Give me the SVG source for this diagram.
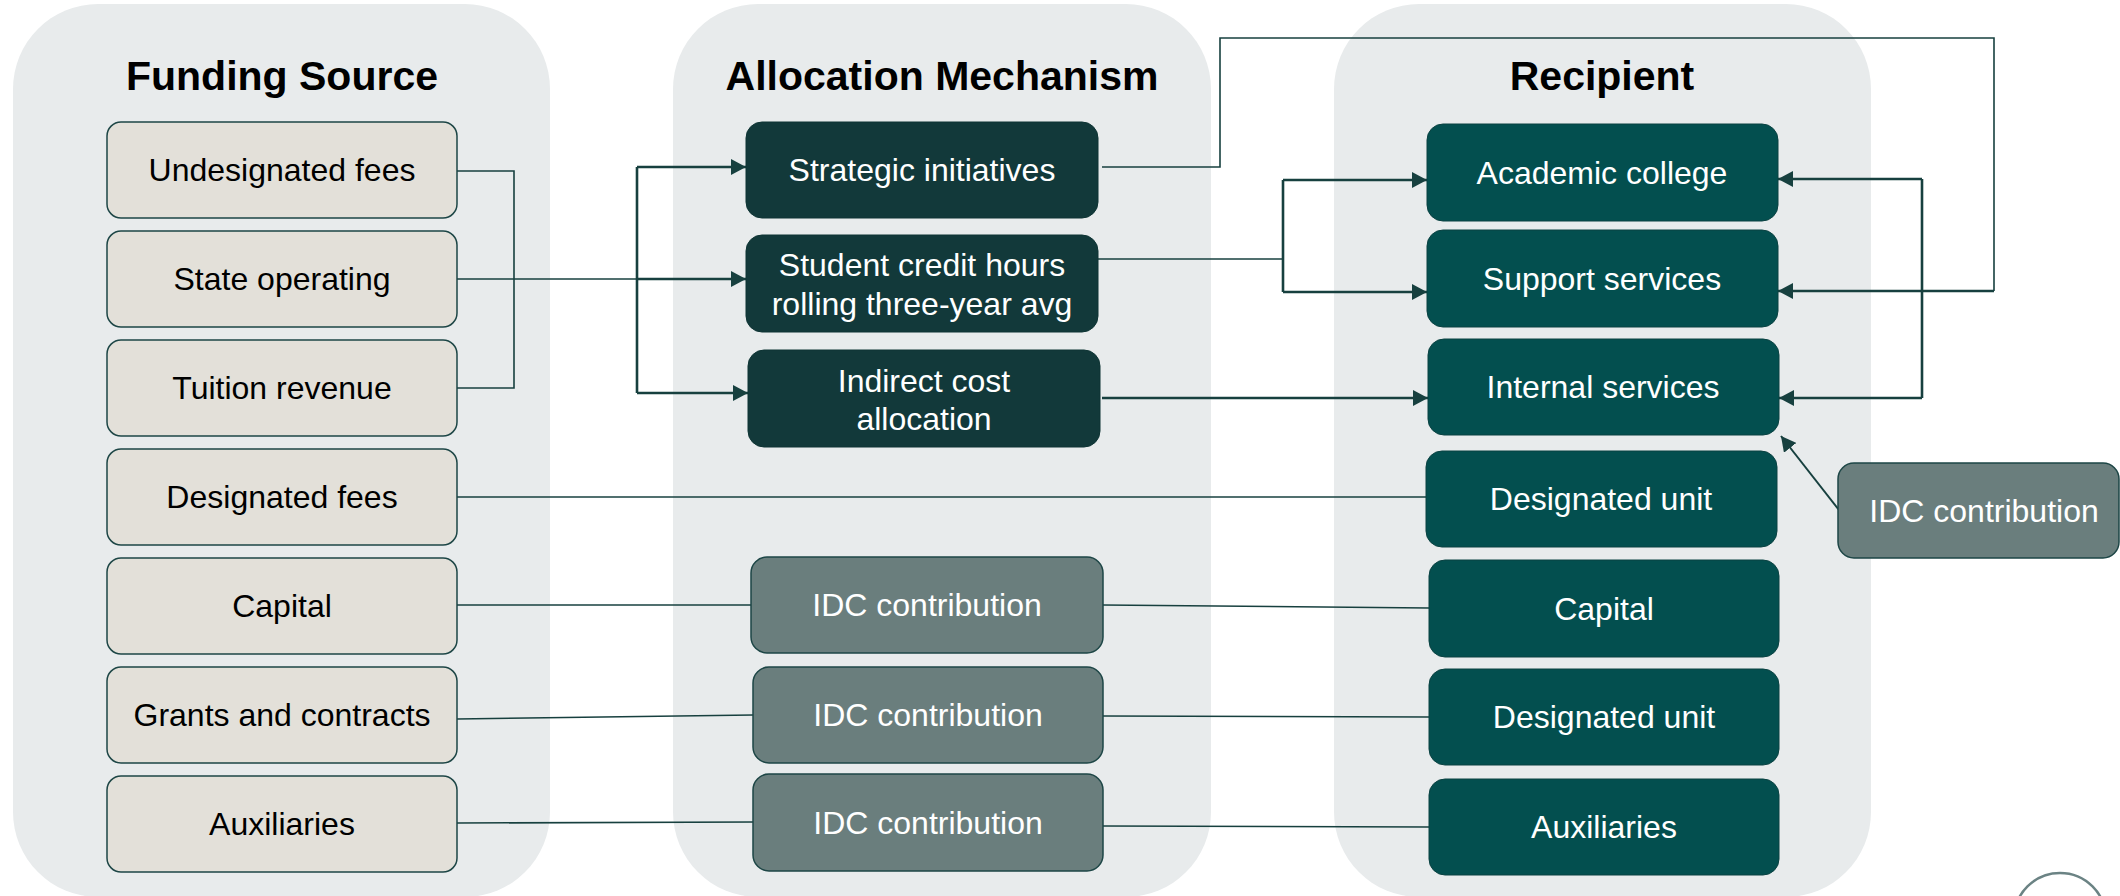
<svg xmlns="http://www.w3.org/2000/svg" width="2120" height="896" viewBox="0 0 2120 896">
  <defs>
    <style>
      .panel { fill: #E8EBEC; }
      .title { font-family: "Liberation Sans", Arial, sans-serif; font-weight: bold; font-size: 41px; fill: #000; text-anchor: middle; }
      .lbl { font-family: "Liberation Sans", Arial, sans-serif; font-size: 32px; text-anchor: middle; }
      .src rect { fill: #E3E0D9; stroke: #1D4646; stroke-width: 1.5; }
      .src text { fill: #000; }
      .mech rect { fill: #12393A; stroke: #0E3434; stroke-width: 1; }
      .rcp rect { fill: #034F4F; stroke: #0A4242; stroke-width: 1; }
      .idc rect { fill: #6A7E7D; stroke: #1D4646; stroke-width: 1.5; }
      .mech text, .rcp text, .idc text { fill: #FFFFFF; }
      .thin { fill: none; stroke: #17403F; stroke-width: 1.6; }
      .thick { fill: none; stroke: #17403F; stroke-width: 2.6; }
    </style>
    <marker id="arrow" markerUnits="userSpaceOnUse" markerWidth="16" markerHeight="16" refX="15" refY="8" orient="auto">
      <path d="M0,0 L15,8 L0,16 Z" fill="#17403F"/>
    </marker>
  </defs>

  <!-- column panels -->
  <g id="panels">
    <rect class="panel" x="13" y="4" width="537" height="893" rx="85" ry="85"/>
    <rect class="panel" x="673" y="4" width="538" height="893" rx="85" ry="85"/>
    <rect class="panel" x="1334" y="4" width="537" height="893" rx="85" ry="85"/>
    <text class="title" x="282" y="90">Funding Source</text>
    <text class="title" x="942" y="90">Allocation Mechanism</text>
    <text class="title" x="1602" y="90">Recipient</text>
  </g>

  <!-- connectors -->
  <g id="connectors">
    <!-- undesignated / state / tuition into the allocation bracket -->
    <polyline class="thin" points="457,171 514,171 514,388 457,388"/>
    <line class="thin" x1="457" y1="279" x2="637" y2="279"/>
    <line class="thick" x1="637" y1="167" x2="637" y2="393"/>
    <line class="thick" x1="637" y1="167" x2="746" y2="167" marker-end="url(#arrow)"/>
    <line class="thick" x1="637" y1="279" x2="746" y2="279" marker-end="url(#arrow)"/>
    <line class="thick" x1="637" y1="393" x2="748" y2="393" marker-end="url(#arrow)"/>

    <!-- strategic initiatives loop to support services -->
    <polyline class="thin" points="1102,167 1220,167 1220,38 1994,38 1994,291"/>
    <line class="thick" x1="1994" y1="291" x2="1778" y2="291" marker-end="url(#arrow)"/>

    <!-- student credit hours to academic college and support services -->
    <line class="thin" x1="1098" y1="259" x2="1283" y2="259"/>
    <line class="thick" x1="1283" y1="180" x2="1283" y2="292"/>
    <line class="thick" x1="1283" y1="180" x2="1427" y2="180" marker-end="url(#arrow)"/>
    <line class="thick" x1="1283" y1="292" x2="1427" y2="292" marker-end="url(#arrow)"/>

    <!-- indirect cost allocation to internal services -->
    <line class="thick" x1="1102" y1="398" x2="1428" y2="398" marker-end="url(#arrow)"/>

    <!-- right-hand bracket between academic college and internal services -->
    <line class="thick" x1="1922" y1="179" x2="1922" y2="398"/>
    <line class="thick" x1="1922" y1="179" x2="1778" y2="179" marker-end="url(#arrow)"/>
    <line class="thick" x1="1922" y1="398" x2="1779" y2="398" marker-end="url(#arrow)"/>

    <!-- side IDC contribution to internal services -->
    <line class="thin" style="stroke-width:2" x1="1839" y1="510" x2="1781" y2="436" marker-end="url(#arrow)"/>

    <!-- direct rows -->
    <line class="thin" x1="457" y1="497" x2="1426" y2="497"/>
    <line class="thin" x1="457" y1="605" x2="751" y2="605"/>
    <line class="thin" x1="1103" y1="605" x2="1429" y2="608"/>
    <line class="thin" x1="457" y1="719" x2="753" y2="715"/>
    <line class="thin" x1="1103" y1="716" x2="1429" y2="717"/>
    <line class="thin" x1="457" y1="823" x2="753" y2="822"/>
    <line class="thin" x1="1103" y1="826" x2="1429" y2="827"/>
  </g>

  <!-- funding sources -->
  <g id="src-undesignated" class="src"><rect x="107" y="122" width="350" height="96" rx="14"/><text class="lbl" x="282" y="181">Undesignated fees</text></g>
  <g id="src-state" class="src"><rect x="107" y="231" width="350" height="96" rx="14"/><text class="lbl" x="282" y="290">State operating</text></g>
  <g id="src-tuition" class="src"><rect x="107" y="340" width="350" height="96" rx="14"/><text class="lbl" x="282" y="399">Tuition revenue</text></g>
  <g id="src-designated" class="src"><rect x="107" y="449" width="350" height="96" rx="14"/><text class="lbl" x="282" y="508">Designated fees</text></g>
  <g id="src-capital" class="src"><rect x="107" y="558" width="350" height="96" rx="14"/><text class="lbl" x="282" y="617">Capital</text></g>
  <g id="src-grants" class="src"><rect x="107" y="667" width="350" height="96" rx="14"/><text class="lbl" x="282" y="726">Grants and contracts</text></g>
  <g id="src-auxiliaries" class="src"><rect x="107" y="776" width="350" height="96" rx="14"/><text class="lbl" x="282" y="835">Auxiliaries</text></g>

  <!-- allocation mechanisms -->
  <g id="mech-strategic" class="mech"><rect x="746" y="122" width="352" height="96" rx="16"/><text class="lbl" x="922" y="181">Strategic initiatives</text></g>
  <g id="mech-sch" class="mech"><rect x="746" y="235" width="352" height="97" rx="16"/><text class="lbl" x="922" y="276">Student credit hours</text><text class="lbl" x="922" y="315">rolling three-year avg</text></g>
  <g id="mech-indirect" class="mech"><rect x="748" y="350" width="352" height="97" rx="16"/><text class="lbl" x="924" y="392">Indirect cost</text><text class="lbl" x="924" y="430">allocation</text></g>
  <g id="mech-idc-capital" class="idc"><rect x="751" y="557" width="352" height="96" rx="16"/><text class="lbl" x="927" y="616">IDC contribution</text></g>
  <g id="mech-idc-grants" class="idc"><rect x="753" y="667" width="350" height="96" rx="16"/><text class="lbl" x="928" y="726">IDC contribution</text></g>
  <g id="mech-idc-aux" class="idc"><rect x="753" y="774" width="350" height="97" rx="16"/><text class="lbl" x="928" y="834">IDC contribution</text></g>

  <!-- recipients -->
  <g id="rcp-academic" class="rcp"><rect x="1427" y="124" width="351" height="97" rx="16"/><text class="lbl" x="1602" y="184">Academic college</text></g>
  <g id="rcp-support" class="rcp"><rect x="1427" y="230" width="351" height="97" rx="16"/><text class="lbl" x="1602" y="290">Support services</text></g>
  <g id="rcp-internal" class="rcp"><rect x="1428" y="339" width="351" height="96" rx="16"/><text class="lbl" x="1603" y="398">Internal services</text></g>
  <g id="rcp-designated" class="rcp"><rect x="1426" y="451" width="351" height="96" rx="16"/><text class="lbl" x="1601" y="510">Designated unit</text></g>
  <g id="rcp-capital" class="rcp"><rect x="1429" y="560" width="350" height="97" rx="16"/><text class="lbl" x="1604" y="620">Capital</text></g>
  <g id="rcp-designated-2" class="rcp"><rect x="1429" y="669" width="350" height="96" rx="16"/><text class="lbl" x="1604" y="728">Designated unit</text></g>
  <g id="rcp-auxiliaries" class="rcp"><rect x="1429" y="779" width="350" height="96" rx="16"/><text class="lbl" x="1604" y="838">Auxiliaries</text></g>

  <!-- IDC contribution feeding internal services -->
  <g id="side-idc" class="idc"><rect x="1838" y="463" width="281" height="95" rx="16"/><text class="lbl" x="1984" y="522">IDC contribution</text></g>

  <!-- corner badge outline -->
  <circle cx="2060" cy="919" r="46" fill="none" stroke="#6B8384" stroke-width="2.5"/>
</svg>
